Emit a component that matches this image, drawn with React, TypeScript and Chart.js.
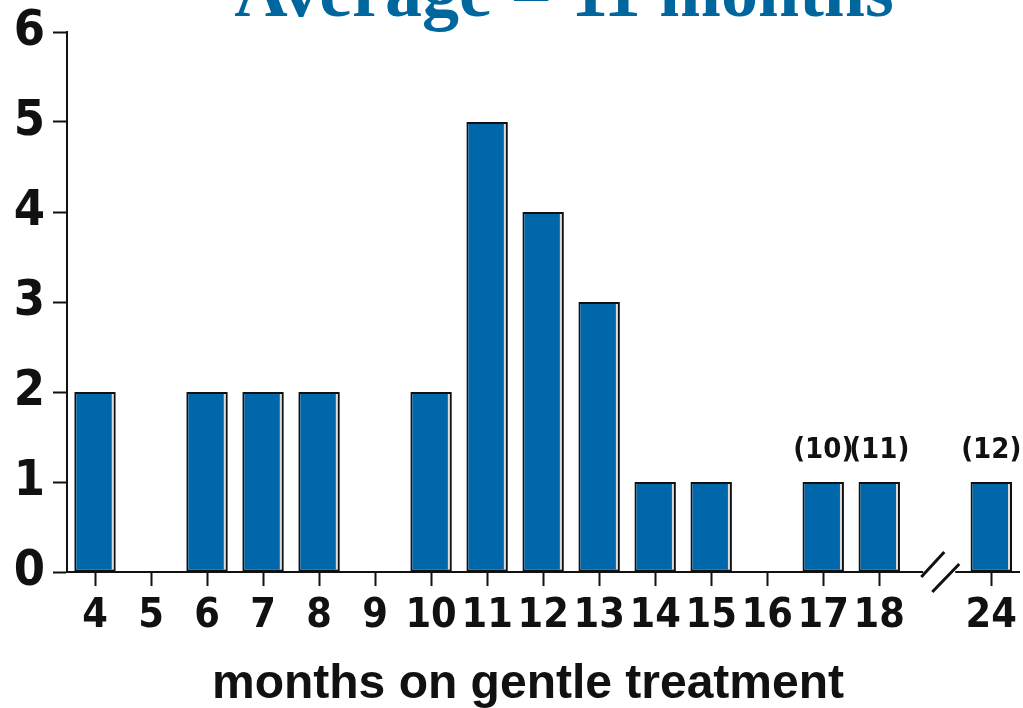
import React, { useEffect, useRef } from 'react';
import { Chart, registerables } from 'chart.js';

Chart.register(...registerables);

const categories = ['4', '5', '6', '7', '8', '9', '10', '11', '12', '13', '14', '15', '16', '17', '18', '', '24'];
const counts = [2, 0, 2, 2, 2, 0, 2, 5, 4, 3, 1, 1, 0, 1, 1, 0, 1];
const barNotes = ['', '', '', '', '', '', '', '', '', '', '', '', '', '(10)', '(11)', '', '(12)'];
const yTicks = [0, 1, 2, 3, 4, 5, 6];
const breakIndex = 15;
const chartTitle = 'Average = 11 months';
const xTitle = 'months on gentle treatment';

const SANS = '"Liberation Sans", Arial, sans-serif';
const NUM = '"DejaVu Sans Condensed", "DejaVu Sans", sans-serif';
const SERIF = '"Liberation Serif", "Times New Roman", serif';
const INK = '#111111';
const BAR_BLUE = '#0067AA';
const TITLE_BLUE = '#00669E';

const decorPlugin = {
  id: 'decor',
  afterDatasetsDraw(chart: any) {
    const ctx = chart.ctx as CanvasRenderingContext2D;
    const meta = chart.getDatasetMeta(0);
    meta.data.forEach((bar: any, i: number) => {
      if (!counts[i]) return;
      const p = bar.getProps(['x', 'y', 'base', 'width'], true);
      ctx.save();
      ctx.strokeStyle = '#dcdcdc';
      ctx.lineWidth = 2;
      ctx.beginPath();
      const sx = p.x + p.width / 2 - 3;
      ctx.moveTo(sx, p.y + 2);
      ctx.lineTo(sx, p.base - 2);
      ctx.stroke();
      ctx.restore();
      if (barNotes[i]) {
        ctx.save();
        ctx.fillStyle = INK;
        ctx.font = `bold 29px ${NUM}`;
        ctx.textAlign = 'center';
        ctx.textBaseline = 'alphabetic';
        ctx.fillText(barNotes[i], p.x, p.y - 24);
        ctx.restore();
      }
    });
  },
  afterDraw(chart: any) {
    const ctx = chart.ctx as CanvasRenderingContext2D;
    const xs = chart.scales.x;
    const ys = chart.scales.y;
    const bx = xs.getPixelForValue(breakIndex);
    const ay = ys.getPixelForValue(0);
    ctx.save();
    ctx.fillStyle = '#ffffff';
    ctx.fillRect(bx - 12, ay - 3, 32, 6);
    ctx.strokeStyle = INK;
    ctx.lineWidth = 3;
    ctx.beginPath();
    ctx.moveTo(bx - 14, ay + 5);
    ctx.lineTo(bx + 9, ay - 20);
    ctx.moveTo(bx - 3, ay + 20);
    ctx.lineTo(bx + 24, ay - 8);
    ctx.stroke();
    ctx.restore();

    ctx.save();
    ctx.fillStyle = TITLE_BLUE;
    ctx.font = `bold 74px ${SERIF}`;
    ctx.textAlign = 'center';
    ctx.textBaseline = 'alphabetic';
    ctx.fillText(chartTitle, 564, 16);
    ctx.restore();

    ctx.save();
    ctx.fillStyle = INK;
    ctx.font = `bold 48px ${SANS}`;
    ctx.textAlign = 'center';
    ctx.textBaseline = 'alphabetic';
    ctx.fillText(xTitle, 528, 698);
    ctx.restore();
  },
};

export default function App() {
  const canvasRef = useRef<HTMLCanvasElement | null>(null);

  useEffect(() => {
    if (!canvasRef.current) return;
    const chart = new Chart(canvasRef.current, {
      type: 'bar',
      data: {
        labels: categories,
        datasets: [
          {
            data: counts,
            backgroundColor: BAR_BLUE,
            borderColor: INK,
            borderWidth: (c: any) => (c.raw ? 2 : 0),
            borderSkipped: false,
            categoryPercentage: 1,
            barPercentage: 0.74,
          },
        ],
      },
      options: {
        animation: false,
        responsive: false,
        maintainAspectRatio: false,
        events: [],
        layout: { padding: { top: 32, right: 2, left: 0, bottom: 0 } },
        plugins: {
          legend: { display: false },
          tooltip: { enabled: false },
          title: { display: false },
        },
        scales: {
          x: {
            grid: {
              offset: false,
              drawOnChartArea: false,
              drawTicks: true,
              tickLength: 14,
              tickWidth: 2,
              tickColor: (c: any) => (c.index === breakIndex ? 'rgba(0,0,0,0)' : INK),
            },
            border: { display: true, color: INK, width: 2 },
            ticks: {
              color: INK,
              autoSkip: false,
              maxRotation: 0,
              padding: 6,
              font: { family: NUM, size: 41, weight: 'bold' },
            },
            title: { display: false },
            afterFit: (s: any) => {
              s.height = 136;
            },
          },
          y: {
            min: 0,
            max: 6,
            afterBuildTicks: (s: any) => {
              s.ticks = yTicks.map((v) => ({ value: v }));
            },
            grid: {
              drawOnChartArea: false,
              drawTicks: true,
              tickLength: 14,
              tickWidth: 2,
              tickColor: INK,
            },
            border: { display: true, color: INK, width: 2 },
            ticks: {
              color: INK,
              padding: 8,
              font: { family: NUM, size: 50, weight: 'bold' },
            },
            afterFit: (s: any) => {
              s.width = 67;
              s.paddingTop = 0;
              s.paddingBottom = 0;
            },
          },
        },
      },
      plugins: [decorPlugin],
    } as any);
    return () => chart.destroy();
  }, []);

  return (
    <div style={{ position: 'fixed', left: 0, top: 0, width: 1023, height: 708, background: '#fff' }}>
      <canvas ref={canvasRef} width={1023} height={708} style={{ display: 'block' }} />
    </div>
  );
}
